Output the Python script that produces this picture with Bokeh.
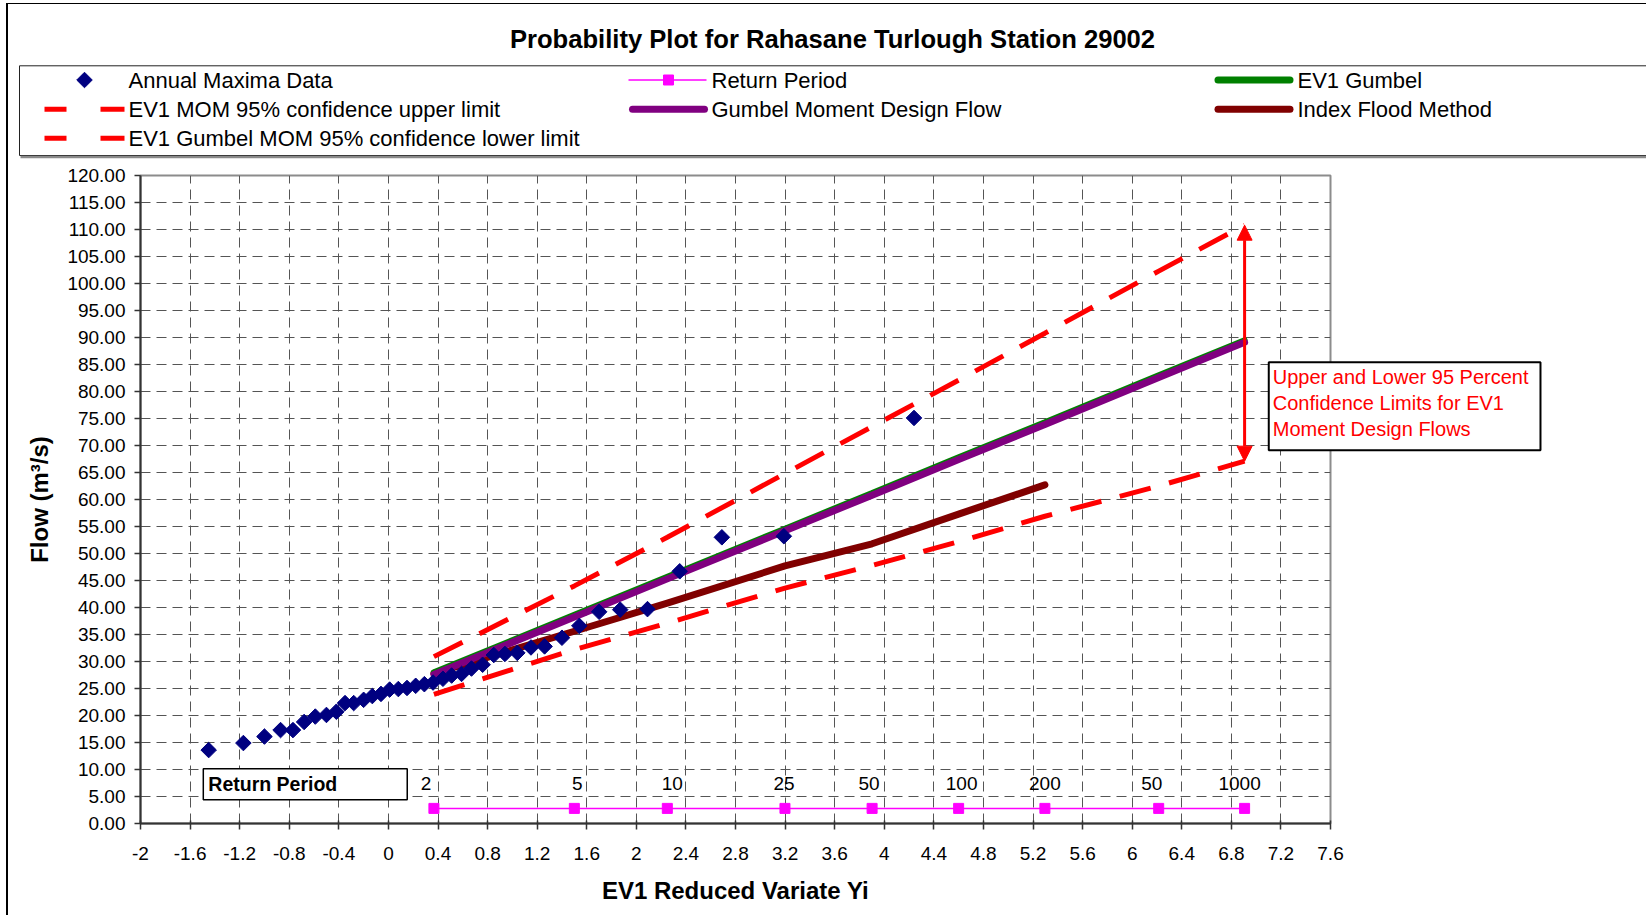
import math
from bokeh.plotting import figure
from bokeh.models import (Range1d, FixedTicker, NumeralTickFormatter, Label, Arrow,
                          NormalHead, ColumnDataSource)
from bokeh.layouts import column
from bokeh.embed import file_html
from bokeh.resources import INLINE
from bokeh.core.properties import value

FONT = "Liberation Sans"

# ---------------- data ----------------
maxima_variate = [-1.45, -1.17, -1.00, -0.87, -0.77, -0.68, -0.59, -0.50, -0.42, -0.35,
                  -0.28, -0.20, -0.13, -0.06, 0.01, 0.08, 0.15, 0.22, 0.29, 0.36,
                  0.44, 0.51, 0.59, 0.67, 0.76, 0.85, 0.94, 1.04, 1.15, 1.26,
                  1.40, 1.54, 1.70, 1.87, 2.09, 2.35, 2.69, 3.19, 4.24]
maxima_flow = [13.6, 14.9, 16.1, 17.3, 17.3, 18.8, 19.8, 20.1, 20.7, 22.3,
               22.3, 22.9, 23.6, 24.0, 24.8, 24.9, 25.1, 25.5, 25.8, 26.1,
               26.8, 27.4, 27.7, 28.7, 29.4, 31.2, 31.4, 31.6, 32.6, 32.8,
               34.4, 36.6, 39.2, 39.6, 39.7, 46.7, 53.0, 53.2, 75.1]

rp_variate = [0.367, 1.500, 2.250, 3.199, 3.902, 4.600, 5.296, 6.214, 6.907]
rp_labels = ["2", "5", "10", "25", "50", "100", "200", "50", "1000"]
rp_level = [2.8] * 9
rp_label_level = [7.4] * 9

ev1_gumbel = [28.0, 38.65, 45.7, 54.6, 61.2, 67.8, 74.3, 83.0, 89.5]
gumbel_moment = [27.6, 38.25, 45.3, 54.2, 60.8, 67.4, 73.9, 82.6, 89.1]
ci_upper = [30.9, 44.0, 53.0, 64.8, 73.5, 82.1, 90.8, 102.3, 110.8]
ci_lower = [23.9, 32.2, 37.1, 43.6, 47.8, 52.2, 56.9, 62.5, 67.1]

index_flood_variate = [0.367, 1.500, 2.250, 3.199, 3.902, 4.600, 5.296]
index_flood = [27.8, 35.6, 40.8, 47.7, 51.8, 57.3, 62.7]

x_ticks = [-2, -1.6, -1.2, -0.8, -0.4, 0, 0.4, 0.8, 1.2, 1.6, 2, 2.4, 2.8, 3.2,
           3.6, 4, 4.4, 4.8, 5.2, 5.6, 6, 6.4, 6.8, 7.2, 7.6]
y_ticks = [0, 5, 10, 15, 20, 25, 30, 35, 40, 45, 50, 55, 60, 65, 70, 75, 80, 85,
           90, 95, 100, 105, 110, 115, 120]
x_min, x_max = -2, 7.6
y_min, y_max = 0, 120

title_text = "Probability Plot for Rahasane Turlough Station 29002"
legend_labels = ["Annual Maxima Data", "Return Period", "EV1 Gumbel",
                 "EV1 MOM 95% confidence upper limit", "Gumbel Moment Design Flow",
                 "Index Flood Method", "EV1 Gumbel MOM 95% confidence lower limit"]
note_text = "Upper and Lower 95 Percent\nConfidence Limits for EV1\nMoment Design Flows"

# small horizontal nudges (px) of the return-period data labels
rp_label_dx = [-8, 3, 5, -1, -3, 3, 0, -7, -5]

C_NAVY = "#000080"
C_MAG = "#FF00FF"
C_GREEN = "#008000"
C_PURPLE = "#800080"
C_BROWN = "#800000"
C_RED = "#FF0000"

W = 1638          # canvas width (px)
HH = 160          # header height (px)
HM = 751          # main chart canvas height (px)
FRAME_L = 132
FRAME_T = 11
FRAME_W = 1190
FRAME_H = 648

# ---------------- header (title + legend) ----------------
h = figure(frame_width=W, frame_height=HH, x_range=Range1d(0, W), y_range=Range1d(HH, 0),
           output_backend="svg", toolbar_location=None, title=None,
           x_axis_location=None, y_axis_location=None, min_border=0)
try:
    h.frame_align = False
except Exception:
    pass
h.grid.visible = False
h.outline_line_color = None
h.background_fill_color = "white"
h.border_fill_color = "white"

h.text(x=[824], y=[34.3], text=[title_text], text_font=value(FONT),
       text_font_style="bold", text_font_size="25.6px", text_align="center",
       text_baseline="middle", text_color="black")

# legend frame
h.quad(left=[11], right=[1700], top=[61.3], bottom=[151], fill_color=None,
       line_color="#222222", line_width=1)
h.segment(x0=[12], y0=[152.5], x1=[1700], y1=[152.5], line_color="#8a8a8a", line_width=2.5)

rows = [75.5, 104.8, 133.8]
text_x = [120, 703, 1289]
# row 1 swatches
h.scatter(x=[76], y=[rows[0]], marker="square", angle=math.pi / 4, size=11,
          color=C_NAVY)
h.segment(x0=[620], y0=[rows[0]], x1=[698], y1=[rows[0]], line_color=C_MAG, line_width=1.5)
h.scatter(x=[660], y=[rows[0]], marker="square", size=10, color=C_MAG)
h.segment(x0=[1209.5], y0=[rows[0]], x1=[1281.5], y1=[rows[0]],
          line_color=C_GREEN, line_width=7, line_cap="round")
# row 2 swatches
h.segment(x0=[36, 92], y0=[rows[1], rows[1]], x1=[58, 116], y1=[rows[1], rows[1]],
          line_color=C_RED, line_width=5)
h.segment(x0=[624], y0=[rows[1]], x1=[696], y1=[rows[1]],
          line_color=C_PURPLE, line_width=7, line_cap="round")
h.segment(x0=[1209.5], y0=[rows[1]], x1=[1281.5], y1=[rows[1]],
          line_color=C_BROWN, line_width=7, line_cap="round")
# row 3 swatch
h.segment(x0=[36, 92], y0=[rows[2], rows[2]], x1=[58, 116], y1=[rows[2], rows[2]],
          line_color=C_RED, line_width=5)

leg_src = ColumnDataSource(dict(
    x=[text_x[0], text_x[1], text_x[2], text_x[0], text_x[1], text_x[2], text_x[0]],
    y=[rows[0], rows[0], rows[0], rows[1], rows[1], rows[1], rows[2]],
    t=legend_labels))
h.text(x="x", y="y", text="t", source=leg_src, text_font=value(FONT),
       text_font_size="22px", text_baseline="middle", text_align="left",
       text_color="black")

# ---------------- main chart ----------------
p = figure(frame_width=FRAME_W, frame_height=FRAME_H,
           x_range=Range1d(x_min, x_max), y_range=Range1d(y_min, y_max),
           output_backend="svg", toolbar_location=None, title=None,
           min_border_left=FRAME_L, min_border_right=W - FRAME_L - FRAME_W,
           min_border_top=FRAME_T, min_border_bottom=HM - FRAME_T - FRAME_H)
try:
    p.frame_align = False
except Exception:
    pass
p.background_fill_color = "white"
p.border_fill_color = "white"
p.outline_line_color = "#8c8c8c"
p.outline_line_width = 2

p.xaxis.ticker = FixedTicker(ticks=x_ticks)
p.yaxis.ticker = FixedTicker(ticks=y_ticks)
p.xaxis.formatter = NumeralTickFormatter(format="0.[0]")
p.yaxis.formatter = NumeralTickFormatter(format="0.00")

for ax in (p.xaxis[0], p.yaxis[0]):
    ax.axis_line_color = "#333333"
    ax.axis_line_width = 2
    ax.major_tick_line_color = "#333333"
    ax.major_tick_line_width = 1.5
    ax.minor_tick_line_color = None
    ax.major_label_text_font = FONT
    ax.major_label_text_font_size = "19px"
    ax.major_label_text_color = "black"
    ax.axis_label_text_font = FONT
    ax.axis_label_text_font_style = "bold"
    ax.axis_label_text_font_size = "24px"
    ax.axis_label_text_color = "black"

p.xaxis.major_tick_out = 6
p.xaxis.major_tick_in = 3
p.xaxis.major_label_standoff = 17
p.xaxis.axis_label = "EV1 Reduced Variate Yi"
p.xaxis.axis_label_standoff = 14

p.yaxis.major_tick_out = 6
p.yaxis.major_tick_in = 0
p.yaxis.major_label_standoff = 9
p.yaxis.axis_label = "Flow (m³/s)"
p.yaxis.axis_label_standoff = 11

for g in (p.xgrid[0], p.ygrid[0]):
    g.grid_line_color = "#555555"
    g.grid_line_dash = "10 6"
    g.grid_line_width = 1

# confidence limits
p.line(rp_variate, ci_upper, line_color=C_RED, line_width=5, line_dash="32 19")
p.line(rp_variate, ci_lower, line_color=C_RED, line_width=5, line_dash="32 19")
# fitted lines
p.line(index_flood_variate, index_flood, line_color=C_BROWN, line_width=7,
       line_cap="round", line_join="round")
p.line(rp_variate, ev1_gumbel, line_color=C_GREEN, line_width=6, line_cap="round")
p.line(rp_variate, gumbel_moment, line_color=C_PURPLE, line_width=7, line_cap="round")
# return period row
p.line(rp_variate, rp_level, line_color=C_MAG, line_width=1.5)
p.scatter(rp_variate, rp_level, marker="square", size=10, color=C_MAG)
rp_src = ColumnDataSource(dict(x=rp_variate, y=rp_label_level, t=rp_labels, dx=rp_label_dx))
p.text(x="x", y="y", text="t", x_offset="dx", source=rp_src, text_font=value(FONT),
       text_font_size="19px", text_align="center", text_baseline="middle",
       text_color="black")
# annual maxima
p.scatter(maxima_variate, maxima_flow, marker="square", angle=math.pi / 4, size=11,
          color=C_NAVY)

# double arrow for the confidence band at T=1000
p.add_layout(Arrow(x_start=rp_variate[-1], y_start=ci_lower[-1],
                   x_end=rp_variate[-1], y_end=ci_upper[-1],
                   start=NormalHead(size=15, fill_color=C_RED, line_color=C_RED),
                   end=NormalHead(size=15, fill_color=C_RED, line_color=C_RED),
                   line_color=C_RED, line_width=3))

# note box: placed in the right side panel so it can extend past the plot area
p.add_layout(Label(x=7.102, y=85.4, text=note_text, anchor="top_left",
                   text_align="left", text_color=C_RED, text_font=FONT,
                   text_font_size="20px", text_line_height=1.18,
                   border_line_color="black", border_line_width=2,
                   background_fill_color="white", padding=(4, 12, 4, 10)), "right")

p.add_layout(Label(x=-1.4934, y=10.13, text="Return Period", anchor="top_left",
                   text_align="left", text_color="black", text_font=FONT,
                   text_font_style="bold", text_font_size="19.5px",
                   border_line_color="black", border_line_width=1.5,
                   background_fill_color="white", padding=(5, 70, 4, 5)))

layout = column(h, p, styles={"margin-left": "6px", "margin-top": "3px",
                              "border-left": "2px solid black",
                              "border-top": "1px solid black",
                              "background-color": "white"})

open("out.html", "w").write(file_html(layout, INLINE))
